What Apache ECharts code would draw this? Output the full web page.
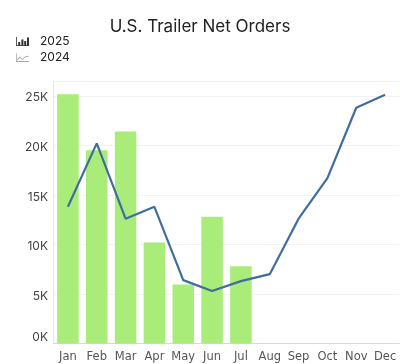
<!DOCTYPE html>
<html><head><meta charset="utf-8">
<style>html,body{margin:0;padding:0;background:#fff}#c{width:400px;height:364px}</style>
<script src="https://cdn.jsdelivr.net/npm/echarts@6/dist/echarts.min.js"></script>
</head><body><div id="c"></div>
<script>
const months = ['Jan','Feb','Mar','Apr','May','Jun','Jul','Aug','Sep','Oct','Nov','Dec'];
const values2025 = [25150,19500,21400,10200,5950,12800,7800];
const values2024 = [13800,20200,12600,13800,6400,5300,6300,7000,12600,16700,23800,25100];
const FONT = 'Inter, "Open Sans", sans-serif';
const barIcon = 'path://M0 0H.8V9H0ZM0 8.2H13V9H0ZM2.2 5H4.2V9H2.2ZM5.4 2.5H7.4V9H5.4ZM8.2 4H10.2V9H8.2ZM11 .5H13V9H11Z';
const lineIcon = 'path://M0 0H.6V8.4H14V9H0ZM1.2 7.2L4 3.5L6.5 6.5L10 3.5L14 2.5V3.2L10 4.2L6.5 7.3L4 4.4L1.7 7.6Z';
const chart = echarts.init(document.getElementById('c'));
chart.setOption({
  animation:false,
  title:{text:'U.S. Trailer Net Orders',left:'center',top:18,padding:0,
    textStyle:{fontFamily:FONT,fontSize:17,fontWeight:'normal',color:'#222'}},
  legend:{orient:'vertical',left:16,top:35.5,padding:0,itemGap:4,itemWidth:13,itemHeight:9,
    textStyle:{fontFamily:FONT,fontSize:12,color:'#222',padding:[0,0,0,6],lineHeight:12},
    data:[
      {name:'2025',icon:barIcon,itemStyle:{color:'#333'}},
      {name:'2024',icon:lineIcon,itemStyle:{color:'#888'}}
    ]},
  grid:{left:53.5,right:0.5,top:81,bottom:20.5},
  xAxis:{type:'category',data:months,
    axisLine:{lineStyle:{color:'#d8d8d8'}},axisTick:{show:false},
    axisLabel:{fontFamily:'"DejaVu Sans"',fontSize:11.5,color:'#555',margin:8,interval:0}},
  yAxis:{type:'value',min:0,max:26500,interval:5000,
    axisLine:{show:true,lineStyle:{color:'#e6e6e6'}},axisTick:{show:false},
    splitLine:{lineStyle:{color:'#f2f2f2'}},
    axisLabel:{margin:5.5,showMaxLabel:false,verticalAlignMinLabel:'bottom',
      formatter:v=>'{a|'+(v/1000)+'K}',
      rich:{a:{fontFamily:FONT,fontSize:12,color:'#444',padding:[4,0,0,0]}}}},
  series:[
    {name:'2025',type:'bar',data:values2025,barWidth:21.5,itemStyle:{color:'#a9ec7a'}},
    {name:'2024',type:'line',data:values2024,symbol:'none',lineStyle:{color:'#3f6d9e',width:2.2},itemStyle:{color:'#3f6d9e'}}
  ]
});
</script></body></html>
